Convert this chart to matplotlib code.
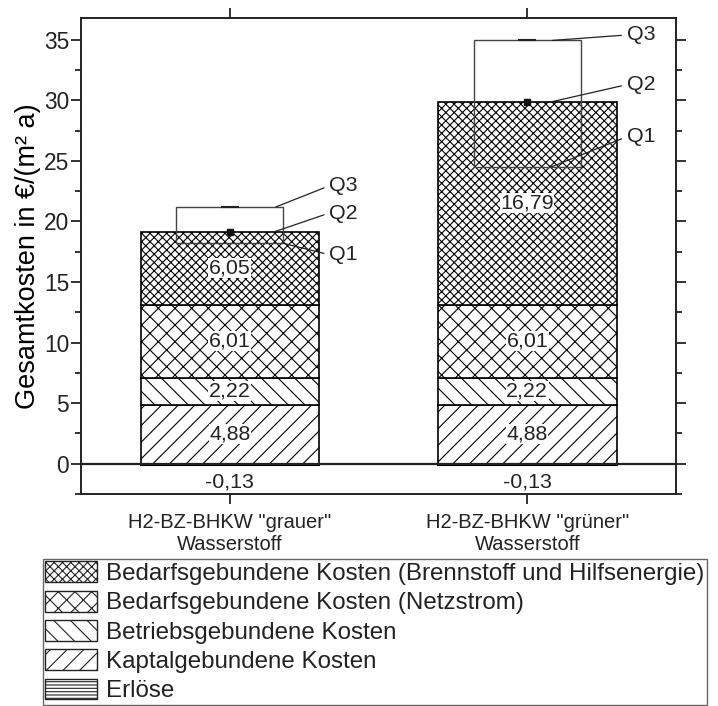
import matplotlib
matplotlib.use('Agg')
import matplotlib.pyplot as plt
from matplotlib.patches import Patch
from matplotlib.ticker import MultipleLocator

plt.rcParams['font.family'] = ['Liberation Sans', 'DejaVu Sans']
plt.rcParams['hatch.linewidth'] = 0.8
plt.rcParams['text.color'] = '#222222'

# data
categories = ['H2-BZ-BHKW "grauer"\nWasserstoff', 'H2-BZ-BHKW "grüner"\nWasserstoff']
erloese = [-0.13, -0.13]
kapital = [4.88, 4.88]
betrieb = [2.22, 2.22]
netzstrom = [6.01, 6.01]
brennstoff = [6.05, 16.79]

q1 = [18.2, 24.5]
q2 = [19.15, 29.9]
q3 = [21.2, 34.95]

series_labels = ['Erlöse', 'Kaptalgebundene Kosten', 'Betriebsgebundene Kosten',
                 'Bedarfsgebundene Kosten (Netzstrom)',
                 'Bedarfsgebundene Kosten (Brennstoff und Hilfsenergie)']
hatches = ['-----', '//', '\\\\', 'xx', 'xxxx']

fig = plt.figure(figsize=(7.18, 7.06), dpi=100)
ax = fig.add_axes([81 / 718, 1 - 494 / 706, (676 - 81) / 718, (494 - 18) / 706])

x = list(range(len(categories)))
width = 0.6

# negative part (revenues)
ax.bar(x, erloese, width, color='white', edgecolor='black', linewidth=1.5,
       hatch=hatches[0], zorder=2)

# positive stack
bottom = [0.0, 0.0]
for vals, h in zip([kapital, betrieb, netzstrom, brennstoff], hatches[1:]):
    ax.bar(x, vals, width, bottom=bottom, color='white', edgecolor='black',
           linewidth=1.2, hatch=h, zorder=2)
    for xi, v, b in zip(x, vals, bottom):
        ax.text(xi, b + v / 2, f'{v:.2f}'.replace('.', ','), ha='center', va='center',
                fontsize=15.4, zorder=5,
                bbox=dict(facecolor='white', edgecolor='none', pad=0.3))
    bottom = [b + v for b, v in zip(bottom, vals)]

for xi, v in zip(x, erloese):
    ax.text(xi, -1.5, f'{v:.2f}'.replace('.', ','), ha='center', va='center', fontsize=15.4)

ax.axhline(0, color='#222222', linewidth=1.6, zorder=3)

# quartile boxes
box_w = 0.36
ax.bar(x, [b - a for a, b in zip(q1, q3)], box_w, bottom=q1, fill=False,
       edgecolor='#444444', linewidth=1.0, zorder=4)
ax.plot(x, q2, 's', color='#111111', markersize=5, zorder=6)
ax.hlines(q3, [xi - 0.03 for xi in x], [xi + 0.03 for xi in x], color='#222222',
          linewidth=1.5, zorder=6)

# annotation offsets (x start inside box, text y offset)
start_dx = [[0.155, 0.15, 0.18], [0.085, 0.085, 0.08]]
text_dy = [[1.75, 1.55, -0.95], [0.45, 1.4, 2.5]]
for i, xi in enumerate(x):
    for j, (name, val) in enumerate(zip(['Q3', 'Q2', 'Q1'], [q3[i], q2[i], q1[i]])):
        ax.annotate(name, xy=(xi + start_dx[i][j], val),
                    xytext=(xi + 0.335, val + text_dy[i][j]),
                    ha='left', va='center', fontsize=15.4, zorder=7,
                    arrowprops=dict(arrowstyle='-', color='#222222', lw=0.9,
                                    shrinkA=2, shrinkB=0, relpos=(0, 0.5)))

ax.set_xlim(-0.5, 1.5)
ax.set_ylim(-2.5, 36.8)
ax.set_xticks(x)
ax.set_xticklabels(categories, fontsize=14.5)
ax.yaxis.set_major_locator(MultipleLocator(5))
ax.yaxis.set_minor_locator(MultipleLocator(2.5))
ax.tick_params(axis='y', labelsize=16.4)
ax.tick_params(which='both', direction='out', top=True, right=True, width=1.3,
               color='#222222', labelcolor='#222222')
ax.tick_params(which='major', length=7)
ax.tick_params(which='minor', length=4)
ax.tick_params(axis='x', which='major', pad=6.5)
ax.tick_params(axis='y', which='major', pad=1.5)
for s in ax.spines.values():
    s.set_linewidth(1.4)
    s.set_color('#222222')

ax.set_ylabel('Gesamtkosten in €/(m² a)', fontsize=19.5, labelpad=2)

handles = [Patch(facecolor='white', edgecolor='#222222', hatch=h, linewidth=1.0)
           for h in hatches]
order = [4, 3, 2, 1, 0]
fig.legend([handles[k] for k in order], [series_labels[k] for k in order],
           loc='upper left', bbox_to_anchor=(43 / 718, 1 - 559 / 706),
           fontsize=17.4, frameon=True, fancybox=False, edgecolor='#666666',
           framealpha=1, handlelength=2.15, handleheight=0.95, labelspacing=0.23,
           handletextpad=0.36, borderpad=0.1, borderaxespad=0)

fig.savefig('out.png', dpi=100)
